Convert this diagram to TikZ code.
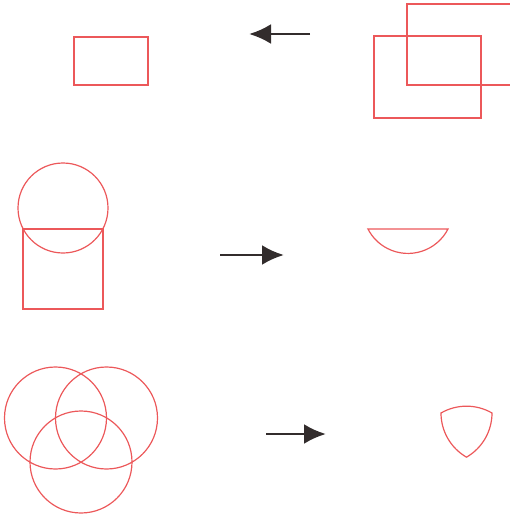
\documentclass[tikz,border=0pt]{standalone}
\usepackage{tikz}
\usetikzlibrary{arrows.meta}
\definecolor{shapeRed}{RGB}{236, 88, 90}
\definecolor{arrowDark}{RGB}{50, 44, 44}

\begin{document}
\begin{tikzpicture}[x=0.5mm, y=-0.5mm,
        shp/.style={draw=shapeRed, line width=1.7pt},
        go/.style={-{Latex[length=11mm, width=10mm]}, line width=4pt, arrowDark}]
    \clip (0,0) rectangle (510,518);
    % row 1: two rectangles and their overlap
    \draw[shp] (74,37) rectangle (148,85);
    \draw[shp] (374,36) rectangle (481,118);
    \draw[shp] (407,4) rectangle (540,85);
    \coordinate (r1s) at (310,34);
    \coordinate (r1e) at (249,34);
    \draw[go] (r1s) -- (r1e);
    % row 2: circle on a square, result is the segment
    \draw[shp] (63,208) circle[radius=45];
    \draw[shp] (23,229) rectangle (103,309);
    \draw[shp] (368,229) -- (448,229) arc[start angle=27.2, end angle=152.8, radius=45] -- cycle;
    \coordinate (r2s) at (220,255);
    \coordinate (r2e) at (284,255);
    \draw[go] (r2s) -- (r2e);
    % row 3: three circles, result is the common part
    \draw[shp] (55.5,418) circle[radius=51];
    \draw[shp] (106.5,418) circle[radius=51];
    \draw[shp] (81,462) circle[radius=51];
    \draw[shp] (441,413) arc[start angle=-120, end angle=-60, radius=51]
        arc[start angle=0, end angle=60, radius=51]
        arc[start angle=120, end angle=180, radius=51] -- cycle;
    \coordinate (r3s) at (266,434);
    \coordinate (r3e) at (326,434);
    \draw[go] (r3s) -- (r3e);
\end{tikzpicture}
\end{document}
